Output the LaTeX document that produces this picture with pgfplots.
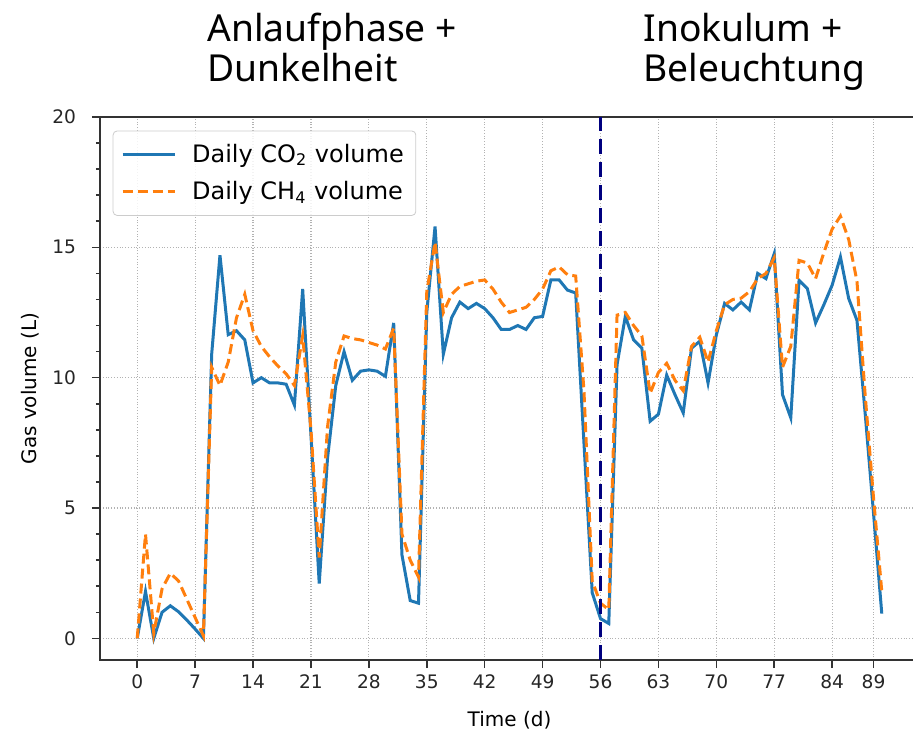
\documentclass[border=0pt]{standalone}
\usepackage{fontspec}
\setmainfont{DejaVu Sans}
\newfontfamily\notofont{Noto Sans}
\usepackage{pgfplots}
\pgfplotsset{compat=1.18}
\definecolor{mplblue}{HTML}{1F77B4}
\definecolor{mplorange}{HTML}{FF7F0E}
\definecolor{navyline}{HTML}{00007F}
\pgfplotstableread{
d co2 ch4
0 0 0
1 1.8 4.0
2 0 0.2
3 1.0 1.9
4 1.25 2.5
5 1.02 2.2
6 0.7 1.5
7 0.36 0.8
8 0 0.1
9 10.9 10.4
10 14.7 9.7
11 11.65 10.6
12 11.8 12.3
13 11.45 13.2
14 9.8 11.8
15 10.0 11.2
16 9.8 10.8
17 9.8 10.45
18 9.75 10.15
19 8.95 9.7
20 13.4 11.6
21 7.8 8.0
22 2.1 3.1
23 6.9 8.1
24 9.7 10.6
25 11.0 11.6
26 9.9 11.5
27 10.25 11.45
28 10.3 11.35
29 10.25 11.25
30 10.05 11.1
31 12.1 11.9
32 3.2 4.0
33 1.45 3.0
34 1.35 2.35
35 12.5 13.3
36 15.8 15.2
37 10.9 12.5
38 12.3 13.2
39 12.9 13.5
40 12.65 13.6
41 12.85 13.7
42 12.65 13.75
43 12.3 13.4
44 11.85 12.9
45 11.85 12.5
46 12.0 12.6
47 11.85 12.7
48 12.3 13.0
49 12.35 13.4
50 13.75 14.1
51 13.75 14.25
52 13.36 13.95
53 13.25 13.9
54 7.5 9.5
55 1.75 2.2
56 0.76 1.35
57 0.57 1.1
58 10.5 12.4
59 12.35 12.5
60 11.45 12.0
61 11.13 11.6
62 8.33 9.4
63 8.6 10.2
64 10.1 10.55
65 9.35 9.9
66 8.65 9.5
67 11.13 11.2
68 11.4 11.55
69 9.8 10.6
70 11.64 11.8
71 12.85 12.8
72 12.6 13.0
73 12.9 13.05
74 12.6 13.3
75 14.0 13.8
76 13.8 14.0
77 14.76 14.6
78 9.35 10.4
79 8.46 11.2
80 13.74 14.5
81 13.42 14.4
82 12.1 13.8
83 12.8 14.8
84 13.55 15.7
85 14.63 16.2
86 13.04 15.3
87 12.2 13.7
88 8.6 9.3
89 4.8 5.4
90 0.95 1.8
}\gasdata
\begin{document}
\begin{tikzpicture}
\path[use as bounding box] (-50pt,-37pt) rectangle (406.5pt,330pt);
\begin{axis}[
  at={(0pt,0pt)}, anchor=south west,
  scale only axis, width=409.5pt, height=271.5pt,
  xmin=-4.5, xmax=94.5, ymin=-0.83, ymax=20,
  xtick={0,7,14,21,28,35,42,49,56,63,70,77,84,89},
  ytick={0,5,10,15,20},
  minor y tick num=4,
  tick align=outside,
  major tick length=4pt, minor tick length=2pt,
  tick style={black!80, line width=0.8pt},
  xtick pos=bottom, ytick pos=left,
  axis line style={black!80, line width=1.1pt},
  grid=major,
  grid style={densely dotted, black!30, line width=0.6pt},
  tick label style={font=\fontsize{9.3}{11}\selectfont, text=black!85},
  yticklabel style={xshift=-4.5pt},
  /pgf/number format/assume math mode=true,
  xlabel={Time (d)}, ylabel={Gas volume (L)},
  label style={font=\fontsize{12.5}{14}\selectfont, text=black!85},
  every axis x label/.style={at={(axis description cs:0.5,-0.1105)}, anchor=center},
  every axis y label/.style={at={(axis description cs:-0.0855,0.5)}, rotate=90, anchor=center},
  legend style={at={(0.0155,0.975)}, anchor=north west,
    draw=black!20, fill=white, fill opacity=0.85, text opacity=1,
    rounded corners=2pt, font=\fontsize{12}{14}\selectfont,
    row sep=4pt, inner xsep=4pt, inner ysep=4.5pt},
  legend cell align=left,
  legend style={/tikz/every odd column/.append style={column sep=6pt}},
  legend image code/.code={\draw[#1] (0pt,0pt) -- (26pt,0pt);},
]
\addplot[mplblue, line width=1.5pt] table[x=d, y=co2] {\gasdata};
\addlegendentry{Daily CO\textsubscript{2} volume}
\addplot[mplorange, line width=1.5pt, dash pattern=on 5pt off 2.5pt] table[x=d, y=ch4] {\gasdata};
\addlegendentry{Daily CH\textsubscript{4} volume}
\addplot[navyline, line width=1.7pt, dash pattern=on 7.5pt off 4pt] coordinates {(56,-0.83) (56,20)};
\end{axis}
\node[anchor=base west, font=\notofont\fontsize{18.6}{20}\selectfont, inner sep=0pt] at (53.5pt,309pt) {Anlaufphase +};
\node[anchor=base west, font=\notofont\fontsize{18.6}{20}\selectfont, inner sep=0pt] at (53.5pt,289pt) {Dunkelheit};
\node[anchor=base west, font=\notofont\fontsize{18.6}{20}\selectfont, inner sep=0pt] at (271.5pt,309pt) {Inokulum +};
\node[anchor=base west, font=\notofont\fontsize{18.6}{20}\selectfont, inner sep=0pt] at (271.5pt,289pt) {Beleuchtung};
\end{tikzpicture}
\end{document}
